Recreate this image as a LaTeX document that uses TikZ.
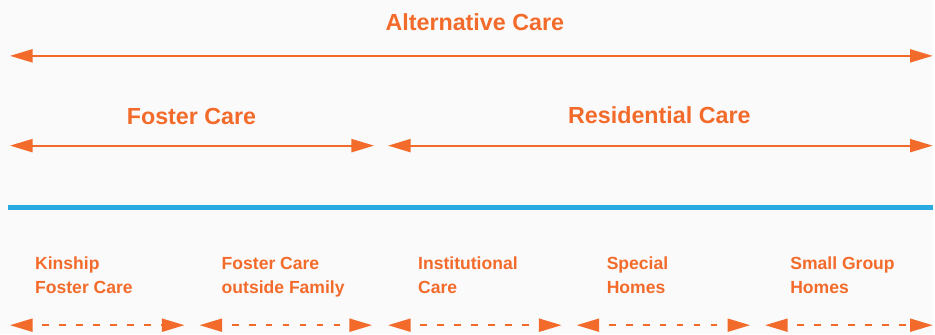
\documentclass[tikz,border=0pt]{standalone}
\usepackage{fontspec}
\setmainfont{Liberation Sans}
\usetikzlibrary{arrows.meta}
\definecolor{careorange}{HTML}{F36B2B}
\definecolor{careblue}{HTML}{29ABE2}
\definecolor{paper}{HTML}{FAFAFA}
\tikzset{
  heading/.style={text=careorange, font=\bfseries\fontsize{17.5}{20}\selectfont, inner sep=0pt, anchor=base},
  kind/.style={text=careorange, font=\bfseries\fontsize{13.2}{18}\selectfont, align=left, inner sep=0pt, anchor=north west},
  span/.style={careorange, line width=1.6pt, {Triangle[length=17pt,width=9.75pt]}-{Triangle[length=17pt,width=9.75pt]}},
  subspan/.style={span, dash pattern=on 5pt off 7.75pt, dash phase=5pt},
}
\begin{document}
\begin{tikzpicture}[x=0.75pt, y=-0.75pt]
    \fill[paper] (0,0) rectangle (935,335);

    % Draw headings
    \node[heading] (alt) at (476,31) {Alternative Care};
    \node[heading] (foster) at (192,125) {Foster Care};
    \node[heading] (resid) at (661,124) {Residential Care};

    % Draw spans
    \coordinate (alt-l) at (10,56);
    \coordinate (alt-r) at (935,56);
    \coordinate (foster-l) at (10,146);
    \coordinate (foster-r) at (375,146);
    \coordinate (resid-l) at (389,146);
    \coordinate (resid-r) at (935,146);
    \draw[span] (alt-l) -- (alt-r);
    \draw[span] (foster-l) -- (foster-r);
    \draw[span] (resid-l) -- (resid-r);

    % Divider
    \coordinate (div-l) at (8,208);
    \coordinate (div-r) at (935,208);
    \draw[careblue, line width=3.5pt] (div-l) -- (div-r);

    % Kinds of care
    \foreach \n/\xa/\xb/\xt/\txt in {1/10/185/35/{Kinship\\Foster Care},
        2/200/373/222/{Foster Care\\outside Family},
        3/389/563/419/{Institutional\\Care},
        4/578/752/608/{Special\\Homes},
        5/767/935/792/{Small Group\\Homes}} {
      \node[kind] (kind\n) at (\xt,257.5) {\txt};
      \coordinate (kind\n-l) at (\xa,326);
      \coordinate (kind\n-r) at (\xb,326);
      \draw[subspan] (kind\n-l) -- (kind\n-r);
    }
\end{tikzpicture}
\end{document}
